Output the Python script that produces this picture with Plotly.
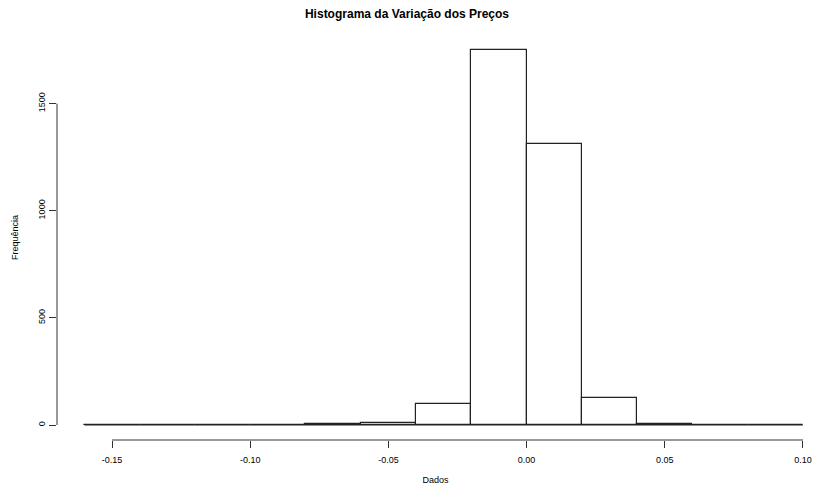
import plotly.graph_objects as go

# Histogram data (breaks of width 0.02, counts)
breaks = [-0.16, -0.14, -0.12, -0.10, -0.08, -0.06, -0.04, -0.02, 0.00, 0.02, 0.04, 0.06, 0.08, 0.10]
counts = [1, 0, 0, 0, 5, 10, 100, 1750, 1310, 128, 4, 0, 0]

x_ticks = [-0.15, -0.10, -0.05, 0.00, 0.05, 0.10]
x_ticklabels = ["-0.15", "-0.10", "-0.05", "0.00", "0.05", "0.10"]
y_ticks = [0, 500, 1000, 1500]
y_ticklabels = ["0", "500", "1000", "1500"]

title = "Histograma da Variação dos Preços"
xlabel = "Dados"
ylabel = "Frequência"

centers = [(breaks[i] + breaks[i + 1]) / 2 for i in range(len(counts))]
widths = [breaks[i + 1] - breaks[i] for i in range(len(counts))]

FONT = "Liberation Sans Narrow, Arial Narrow, Liberation Sans, Arial, sans-serif"

fig = go.Figure()
# zero-height baseline (R draws empty bins as flat rectangles)
fig.add_trace(go.Scatter(x=[breaks[0], breaks[-1]], y=[0, 0], mode="lines",
                         line=dict(color="#222", width=1), hoverinfo="skip", showlegend=False))
fig.add_trace(go.Bar(x=centers, y=counts, width=widths,
                     marker=dict(color="white", line=dict(color="#222", width=1.2)),
                     showlegend=False))

fig.update_layout(
    width=814, height=486,
    margin=dict(l=57, r=0, t=35, b=46),
    paper_bgcolor="white", plot_bgcolor="white",
    bargap=0,
    title=dict(text="<b>" + title + "</b>", x=0.5, xanchor="center", y=1 - 14 / 486, yanchor="middle",
               font=dict(family="Liberation Sans, Arial, sans-serif", size=12, color="black")),
    xaxis=dict(range=[-0.1699, 0.1040], showgrid=False, zeroline=False, showline=False,
               automargin=False,
               tickmode="array", tickvals=x_ticks, ticktext=x_ticklabels,
               ticks="outside", ticklen=7, tickwidth=1, tickcolor="#333",
               ticklabelstandoff=4, ticklabeloverflow="allow",
               tickfont=dict(family=FONT, size=9, color="black"),
               title=dict(text=xlabel, font=dict(family=FONT, size=9, color="black"), standoff=12)),
    yaxis=dict(range=[-70, 1820], showgrid=False, zeroline=False, showline=False,
               automargin=False,
               tickmode="array", tickvals=y_ticks, ticktext=y_ticklabels,
               ticks="outside", ticklen=7, tickwidth=1, tickcolor="#333",
               tickangle=-90,
               tickfont=dict(family=FONT, size=9, color="black"),
               title=dict(text=ylabel, font=dict(family=FONT, size=9, color="black"), standoff=17)),
)

# axis lines spanning only the tick range, like R's axis()
fig.add_shape(type="line", xref="x", yref="paper", x0=x_ticks[0], x1=x_ticks[-1], y0=0, y1=0,
              line=dict(color="#333", width=1))
fig.add_shape(type="line", xref="paper", yref="y", x0=0, x1=0, y0=y_ticks[0], y1=y_ticks[-1],
              line=dict(color="#333", width=1))

fig.write_html("out.html", config={"displayModeBar": False},
               post_script="document.body.style.margin='0';document.body.style.overflow='hidden';")
